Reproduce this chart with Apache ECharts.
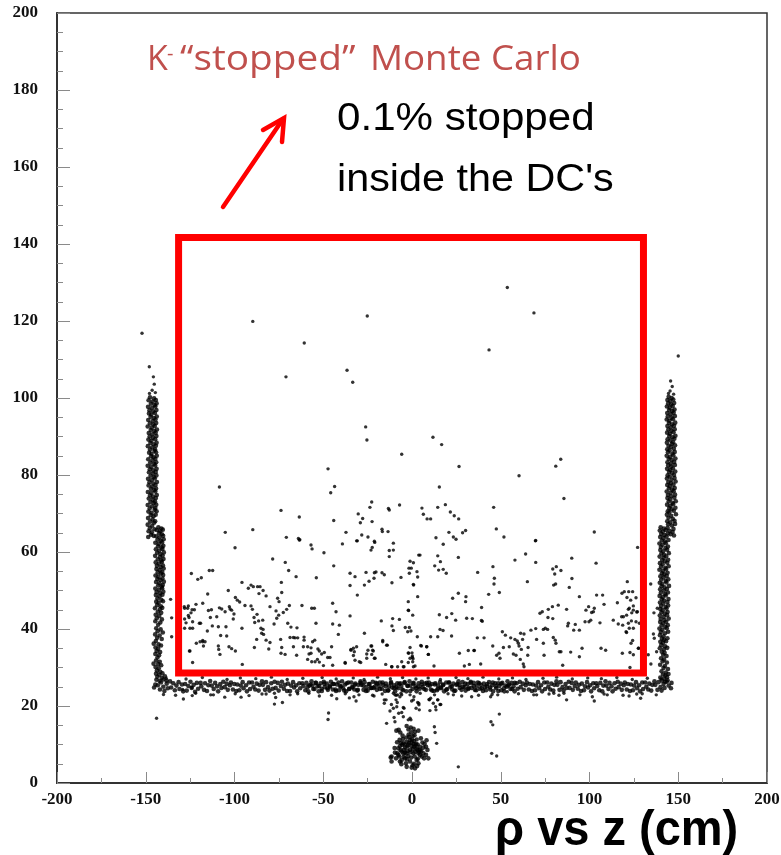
<!DOCTYPE html>
<html>
<head>
<meta charset="utf-8">
<script src="https://cdn.jsdelivr.net/npm/echarts@6/dist/echarts.min.js"></script>
<style>
html,body{margin:0;padding:0;background:#fff;}
#chart{width:781px;height:855px;}
</style>
</head>
<body>
<div id="chart"></div>
<script>
// Axis ranges (cm)
const zRange = [-200, 200];
const rhoRange = [0, 200];
const zStep = 50;
const rhoStep = 20;

// Fiducial box drawn in red: z and rho limits (cm)
const boxZ = [-131.5, 130.4];
const boxRho = [28.6, 141.7];

// Stopping points, flat [z, rho, z, rho, ...] lists (cm)
// Outer chamber wall, left side, upper section
const wallLeftUpper = [
-147.6,100.2,-145.3,99.9,-148.4,99.4,-146.2,99.1,-144.3,99.5,-147.1,98.5,-145.0,98.2,-143.9,98.6,
-148.7,97.7,-146.5,97.4,-144.6,97.8,-147.9,96.8,-145.8,96.5,-144.0,96.9,-148.2,96.0,-146.9,95.7,-144.8,96.1,
-147.3,95.1,-145.4,94.8,-143.8,95.2,-148.6,94.3,-146.1,94.0,-144.5,94.4,-147.7,93.4,-145.7,93.1,-144.1,93.5,
-148.9,92.6,-146.6,92.3,-144.9,92.7,-147.2,91.7,-145.2,91.4,-143.7,91.8,-148.3,90.9,-146.3,90.6,-144.4,91.0,
-147.8,90.0,-145.9,89.7,-144.0,90.1,-148.5,89.2,-146.8,88.9,-144.7,89.3,-147.4,88.3,-145.5,88.0,-143.9,88.4,
-148.8,87.5,-146.4,87.2,-144.3,87.6,-147.6,86.6,-145.1,86.3,-144.8,86.7,-148.1,85.8,-146.7,85.5,-144.2,85.9,
-147.0,84.9,-145.6,84.6,-143.8,85.0,-148.6,84.1,-146.2,83.8,-144.6,84.2,-147.5,83.2,-145.3,82.9,-144.1,83.3,
-148.9,82.4,-146.9,82.1,-144.7,82.5,-147.7,81.5,-145.8,81.2,-143.9,81.6,-148.2,80.7,-146.0,80.4,-144.4,80.8,
-147.3,79.8,-145.4,79.5,-144.0,79.9,-148.7,79.0,-146.6,78.7,-144.9,79.1,-147.9,78.1,-145.7,77.8,-143.7,78.2,
-148.4,77.3,-146.3,77.0,-144.5,77.4,-147.1,76.4,-145.2,76.1,-144.2,76.5,-148.8,75.6,-146.8,75.3,-144.6,75.7,
-147.6,74.7,-145.9,74.4,-143.8,74.8,-148.3,73.9,-146.1,73.6,-144.3,74.0,-147.4,73.0,-145.5,72.7,-144.8,73.1,
-148.9,72.2,-146.5,71.9,-144.1,72.3,-147.8,71.3,-145.0,71.0,-144.6,71.4,-148.5,70.5,-146.7,70.2,-143.9,70.6,
-147.2,69.6,-145.6,69.3,-144.4,69.7,-148.7,68.8,-146.2,68.5,-147.5,67.9,-145.3,67.6,-144.7,68.0,
-148.9,67.1,-146.4,66.8,-147.7,66.2,-145.1,65.9,-148.4,65.4,-146.6,65.1,-147.0,64.5,-145.5,64.2,-148.6,63.9
];
// Left side, lower section bending into the beam-pipe band
const wallLeftLower = [
-142.9,66.4,-141.2,66.1,-143.8,65.7,-141.9,65.4,-140.4,65.8,-142.5,64.9,-140.9,64.6,-144.1,64.1,-142.2,63.8,-140.2,64.2,
-143.4,63.2,-141.5,62.9,-139.9,63.3,-144.6,62.4,-142.7,62.1,-140.8,62.5,-143.1,61.5,-141.1,61.2,-140.1,61.6,
-144.3,60.7,-142.4,60.4,-140.6,60.8,-143.6,59.8,-141.8,59.5,-139.8,59.9,-144.7,59.0,-142.0,58.7,-140.5,59.1,
-143.2,58.1,-141.3,57.8,-140.0,58.2,-144.4,57.3,-142.6,57.0,-140.9,57.4,-143.7,56.4,-141.6,56.1,-140.3,56.5,
-144.0,55.6,-142.1,55.3,-139.9,55.7,-143.3,54.7,-141.4,54.4,-140.7,54.8,-144.5,53.9,-142.8,53.6,-140.2,54.0,
-143.5,53.0,-141.7,52.7,-140.6,53.1,-144.2,52.2,-142.3,51.9,-139.8,52.3,-143.0,51.3,-141.0,51.0,-140.4,51.4,
-144.6,50.5,-142.5,50.2,-140.8,50.6,-143.9,49.6,-141.9,49.3,-140.1,49.7,-144.3,48.8,-142.2,48.5,-140.6,48.9,
-143.4,47.9,-141.2,47.6,-144.1,47.1,-142.7,46.8,-140.3,47.2,-143.6,46.2,-141.5,45.9,-144.8,45.4,-142.0,45.1,-140.7,45.5,
-143.2,44.5,-141.3,44.2,-144.4,43.7,-142.4,43.4,-143.8,42.8,-140.9,42.5,-144.6,42.0,-141.8,41.7,-143.0,41.1,
-144.1,40.2,-141.6,39.9,-143.3,39.4,-140.4,39.1,-144.7,38.6,-142.2,38.3,-143.6,37.7,-141.0,37.4,-144.3,36.9,
-142.8,36.0,-141.4,35.7,-144.5,35.2,-143.0,34.9,-143.9,34.3,-141.9,34.0,-144.6,33.5,-142.5,33.2,-143.4,32.6,
-144.2,31.8,-142.1,31.5,-143.0,30.9,-141.3,30.6,-144.5,30.1,-142.7,29.8,-143.7,29.2,-141.8,28.9,
-144.2,28.4,-142.4,28.1,-140.6,28.5,-143.5,27.6,-141.0,27.3,-139.2,27.7,-144.0,26.8,-142.2,26.5,-140.1,26.9,-138.3,26.6,
-145.5,36.2,-145.6,31.0
];
// Right side, upper section
const wallRightUpper = [
144.6,100.3,146.3,100.0,143.9,99.5,145.5,99.2,147.2,99.6,144.3,98.6,146.0,98.3,147.7,98.7,
143.6,97.8,145.2,97.5,146.9,97.9,144.8,96.9,146.6,96.6,147.9,97.0,143.8,96.1,145.7,95.8,147.4,96.2,
144.1,95.2,146.2,94.9,148.1,95.3,143.5,94.4,145.0,94.1,147.0,94.5,144.7,93.5,146.5,93.2,148.3,93.6,
143.9,92.7,145.8,92.4,147.6,92.8,144.4,91.8,146.1,91.5,148.0,91.9,143.7,91.0,145.3,90.7,147.3,91.1,
144.9,90.1,146.8,89.8,148.4,90.2,144.0,89.3,145.6,89.0,147.8,89.4,143.6,88.4,146.4,88.1,147.1,88.5,
144.5,87.6,145.9,87.3,148.2,87.7,143.8,86.7,145.1,86.4,147.5,86.8,144.2,85.9,146.7,85.6,148.0,86.0,
143.5,85.0,145.4,84.7,147.2,85.1,144.6,84.2,146.3,83.9,148.4,84.3,143.9,83.3,145.8,83.0,147.7,83.4,
144.3,82.5,146.0,82.2,148.1,82.6,143.7,81.6,145.5,81.3,147.0,81.7,144.8,80.8,146.5,80.5,148.3,80.9,
144.0,79.9,145.2,79.6,147.6,80.0,143.6,79.1,146.2,78.8,147.9,79.2,144.4,78.2,145.9,77.9,148.5,78.3,
143.8,77.4,145.3,77.1,147.3,77.5,144.7,76.5,146.6,76.2,148.0,76.6,143.5,75.7,145.7,75.4,147.4,75.8,
144.2,74.8,146.1,74.5,148.2,74.9,143.9,74.0,145.4,73.7,147.8,74.1,144.6,73.1,146.8,72.8,148.6,73.2,
143.7,72.3,145.6,72.0,147.1,72.4,144.9,71.4,146.3,71.1,148.4,71.5,144.1,70.6,145.0,70.3,147.5,70.7,
143.6,69.7,146.0,69.4,148.7,69.8,144.5,68.9,146.9,68.6,143.8,68.0,145.5,67.7,147.9,68.1,
144.3,67.2,146.4,66.9,148.2,67.3,144.0,66.3,147.3,66.0,145.1,65.5,146.8,65.2,145.7,64.6,147.6,64.3
];
// Right side, lower section bending into the beam-pipe band
const wallRightLower = [
140.1,66.4,141.9,66.1,139.6,65.6,141.3,65.3,143.0,65.7,140.4,64.7,142.2,64.4,144.1,64.8,
139.8,63.9,141.6,63.6,143.4,64.0,140.7,63.0,142.5,62.7,144.5,63.1,139.4,62.2,141.1,61.9,143.0,62.3,
140.2,61.3,142.8,61.0,144.2,61.4,139.9,60.5,141.5,60.2,143.7,60.6,140.5,59.6,142.0,59.3,144.7,59.7,
139.5,58.8,141.8,58.5,143.2,58.9,140.9,57.9,142.4,57.6,144.3,58.0,139.7,57.1,141.2,56.8,143.8,57.2,
140.3,56.2,142.7,55.9,144.6,56.3,139.4,55.4,141.4,55.1,143.1,55.5,140.8,54.5,142.1,54.2,144.0,54.6,
139.9,53.7,141.7,53.4,143.5,53.8,140.4,52.8,142.9,52.5,144.4,52.9,139.6,52.0,141.0,51.7,143.3,52.1,
140.6,51.1,142.3,50.8,144.8,51.2,139.8,50.3,141.9,50.0,143.6,50.4,140.2,49.4,142.6,49.1,144.2,49.5,
139.5,48.6,141.3,48.3,143.0,48.7,140.7,47.7,142.0,47.4,144.5,47.8,139.7,46.9,141.6,46.6,143.9,47.0,
140.3,46.0,142.8,45.7,144.3,46.1,139.9,45.2,141.2,44.9,143.4,45.3,140.5,44.3,142.4,44.0,144.0,44.4,
139.6,43.5,141.8,43.2,143.7,43.6,140.1,42.6,142.2,42.3,144.6,42.7,139.8,41.8,141.5,41.5,143.2,41.9,
140.6,40.9,142.7,40.6,144.1,41.0,139.4,40.1,141.1,39.8,143.5,40.2,140.2,39.2,142.5,38.9,144.3,39.3,
139.7,38.4,141.7,38.1,140.8,37.5,142.0,37.2,143.9,37.6,139.9,36.7,141.4,36.4,143.1,36.8,140.4,35.8,142.6,35.5,
139.6,35.0,141.9,34.7,143.8,35.1,140.7,34.1,142.3,33.8,141.5,33.3,143.4,33.0,140.3,32.4,142.0,32.1,
141.2,31.6,143.6,31.3,139.8,30.7,142.5,30.4,141.7,29.9,144.2,29.6,140.6,29.0,143.0,28.7,
141.4,28.2,142.8,27.9,144.5,28.3,139.9,27.4,142.0,27.1,143.7,27.5,140.8,26.6,142.6,26.3,144.0,26.7
];
// Beam-pipe band around rho = 25 cm
const beamBand = [
-145.3,24.8,-144.6,25.6,
-143.2,25.4,-142.0,24.3,-141.4,26.1,-140.1,25.0,-139.5,23.9,-138.2,25.8,-137.6,24.6,-136.3,26.4,
-135.7,24.8,-134.5,25.9,-133.6,24.1,-132.7,25.3,-131.5,26.2,-131.0,24.4,-129.6,25.6,-128.9,23.8,
-127.8,25.7,-126.9,24.0,-126.0,25.2,-124.8,26.3,-124.1,24.7,-123.0,25.5,-122.2,23.7,-121.2,26.0,
-120.5,24.5,-119.1,26.0,-118.7,25.1,-117.2,24.2,-116.6,25.9,-115.5,23.9,-114.7,25.4,-113.7,26.5,
-112.8,25.3,-111.7,24.4,-110.9,26.0,-109.8,25.1,-109.2,23.8,-108.0,25.7,-107.4,24.7,-106.3,26.3,
-105.5,24.9,-104.4,25.8,-103.8,24.2,-102.6,25.4,-102.0,26.1,-100.9,24.3,-100.1,25.7,-99.0,23.9,
-98.4,25.6,-97.3,24.1,-96.5,25.3,-95.4,26.2,-94.9,24.6,-93.5,25.4,-93.0,23.8,-91.8,26.1,
-91.2,24.4,-90.1,26.1,-89.3,25.0,-88.3,24.3,-87.5,25.8,-86.4,24.0,-85.9,25.5,-84.5,26.4,
-84.0,25.5,-82.8,24.2,-82.2,26.2,-81.1,24.9,-80.3,24.0,-79.3,25.9,-78.5,24.5,-77.4,26.3,
-76.8,24.7,-75.6,26.0,-75.1,24.0,-73.9,25.2,-73.3,26.3,-72.2,24.5,-71.6,25.5,-70.4,23.9,
-69.9,25.8,-68.7,23.9,-68.1,25.3,-67.0,26.2,-66.4,24.8,-65.3,25.4,-64.7,23.8,-63.5,25.9,
-63.0,24.6,-61.8,25.9,-61.2,25.2,-60.1,24.1,-59.5,26.0,-58.4,23.8,-57.8,25.3,-56.6,26.4,
-56.1,25.3,-54.9,24.4,-54.3,26.0,-53.2,25.1,-52.6,23.8,-51.5,25.9,-50.9,24.5,-49.7,26.3,
-49.2,24.9,-48.0,25.8,-47.4,24.2,-46.3,25.2,-45.7,26.3,-44.6,24.3,-44.0,25.7,-42.8,23.9,
-42.3,25.6,-41.1,24.1,-40.5,25.1,-39.4,26.4,-38.8,24.6,-37.7,25.6,-37.1,23.8,-35.9,26.1,
-35.4,24.4,-34.2,26.1,-33.6,25.0,-32.5,24.3,-31.9,25.8,-30.8,24.0,-30.2,25.5,-29.0,26.4,
-28.5,25.5,-27.3,24.2,-26.7,26.2,-25.6,24.9,-25.0,24.0,-23.9,25.7,-23.3,24.7,-22.1,26.3,
-21.6,24.7,-20.4,26.0,-19.8,24.2,-18.7,25.2,-18.1,26.1,-17.0,24.5,-16.4,25.5,-15.2,23.9,
-14.7,25.8,-13.5,24.1,-12.9,25.1,-11.8,26.2,-11.2,24.8,-10.1,25.4,-9.5,23.8,-8.3,25.9,
-7.8,24.6,-6.6,25.9,-6.0,25.2,-4.9,24.1,-4.3,26.0,-3.2,23.8,-2.6,25.3,-1.4,26.4,
-0.9,25.3,0.3,24.4,0.9,26.0,2.0,25.1,2.6,23.8,3.7,25.9,4.3,24.5,5.5,26.3,
6.0,24.9,7.2,25.8,7.8,24.2,8.9,25.4,9.5,26.1,10.6,24.3,11.2,25.7,12.4,23.9,
12.9,25.6,14.1,24.1,14.7,25.3,15.8,26.2,16.4,24.6,17.5,25.4,18.1,23.8,19.3,26.1,
19.8,24.4,21.0,26.1,21.6,25.0,22.7,24.3,23.3,25.8,24.4,24.0,25.0,25.5,26.2,26.4,
26.7,25.5,27.9,24.2,28.5,26.2,29.6,24.9,30.2,24.0,31.3,25.7,31.9,24.7,33.1,26.3,
33.6,24.7,34.8,26.0,35.4,24.2,36.5,25.2,37.1,26.1,38.2,24.5,38.8,25.5,40.0,23.9,
40.5,25.8,41.7,24.1,42.3,25.1,43.4,26.2,44.0,24.8,45.1,25.4,45.7,23.8,46.9,25.9,
47.4,24.6,48.6,25.9,49.2,25.2,50.3,24.1,50.9,26.0,52.0,23.8,52.6,25.3,53.8,26.4,
54.3,25.3,55.5,24.4,56.1,26.0,57.2,25.1,57.8,23.8,58.9,25.9,59.5,24.5,60.7,26.3,
61.2,24.9,62.4,25.8,63.0,24.2,64.1,25.4,64.7,26.1,65.8,24.3,66.4,25.7,67.6,23.9,
68.1,25.6,69.3,24.1,69.9,25.3,71.0,26.2,71.6,24.6,72.7,25.4,73.3,23.8,74.5,26.1,
75.0,24.4,76.2,26.1,76.8,25.0,77.9,24.3,78.5,25.8,79.6,24.0,80.2,25.5,81.4,26.4,
81.9,25.5,83.1,24.2,83.7,26.2,84.8,24.9,85.4,24.0,86.5,25.7,87.1,24.7,88.3,26.3,
88.8,24.7,90.0,26.0,90.6,24.2,91.7,25.2,92.3,26.1,93.4,24.5,94.0,25.5,95.2,23.9,
95.7,25.8,96.9,24.1,97.5,25.1,98.6,26.2,99.2,24.8,100.3,25.4,100.9,23.8,102.1,25.9,
102.6,24.6,103.8,25.9,104.4,25.2,105.5,24.1,106.1,26.0,107.2,23.8,107.8,25.3,109.0,26.4,
109.5,25.3,110.7,24.4,111.3,26.0,112.4,25.1,113.0,23.8,114.1,25.9,114.7,24.5,115.9,26.3,
116.4,24.9,117.6,25.8,118.2,24.2,119.3,25.4,119.9,26.1,121.0,24.3,121.6,25.7,122.8,23.9,
123.3,25.6,124.5,24.1,125.1,25.3,126.2,26.2,126.8,24.6,127.9,25.4,128.5,23.8,129.7,26.1,
130.2,24.4,131.4,26.1,132.0,25.0,133.1,24.3,133.7,25.8,134.8,24.0,135.4,25.5,136.6,26.4,
137.1,25.5,138.3,24.2,138.9,26.2,140.0,24.9,140.6,24.0,141.7,25.7,142.3,24.7,143.5,26.3,
144.6,25.3,145.9,24.6,146.2,26.0
];
// Extra density in the central part of the band
const beamBandCore = [
-58.9,24.9,-57.2,25.6,-55.6,24.4,-54.1,26.0,-52.3,25.2,-50.8,23.9,-49.4,25.8,-47.7,24.6,
-46.2,25.0,-44.5,25.7,-43.1,24.3,-41.4,26.1,-39.9,25.1,-38.2,24.0,-36.8,25.9,-35.3,24.5,
-33.6,24.8,-32.2,25.5,-30.5,24.2,-29.0,26.0,-27.4,25.3,-25.9,23.9,-24.3,25.7,-22.8,24.7,
-21.0,25.0,-19.7,25.8,-18.1,24.4,-16.6,26.1,-14.8,25.1,-13.4,24.0,-11.9,25.9,-10.1,24.6,
-8.8,24.9,-7.2,25.7,-5.5,24.3,-4.1,26.2,-2.4,25.2,-1.0,23.9,0.7,25.8,2.3,24.6,
3.6,25.0,5.4,25.6,6.9,24.4,8.3,26.0,10.0,25.3,11.4,24.0,13.1,25.9,14.5,24.5,
16.2,24.8,17.6,25.6,19.3,24.2,20.7,26.1,22.4,25.1,23.8,23.9,25.5,25.7,26.9,24.7,
28.6,25.0,30.0,25.8,31.7,24.4,33.1,26.0,34.8,25.2,36.2,24.1,37.9,25.9,39.3,24.6,
41.0,24.9,42.4,25.7,44.1,24.3,45.5,26.1,47.2,25.1,48.6,23.9,50.3,25.8,51.7,24.6,
53.4,25.0,54.8,25.6,56.5,24.4,57.9,26.0
];
// Looser points just above and below the band
const bandFringe = [
-138.5,27.2,-127.3,27.0,-118.1,27.4,-104.2,26.9,-96.7,27.3,-88.0,27.1,-79.2,27.5,-70.3,26.9,-61.5,27.2,-50.6,27.4,
-42.7,27.0,-33.1,27.3,-27.0,26.9,-19.4,27.5,-12.2,27.1,-5.3,27.4,2.2,27.0,9.1,27.3,16.0,26.9,24.8,27.4,
31.5,27.1,40.0,27.5,48.9,27.0,56.6,27.3,64.2,26.9,73.8,27.2,81.5,27.5,90.3,27.0,99.0,27.3,106.7,27.1,
115.4,27.4,124.1,26.9,132.6,27.2,140.2,27.0,
-140.0,23.0,-133.2,22.8,-121.9,23.3,-113.4,22.9,-99.6,23.2,-91.8,22.7,-84.5,23.1,-68.7,22.9,-58.1,23.3,-45.3,22.8,
-37.6,23.2,-29.9,22.9,-16.8,23.1,-8.9,22.8,4.6,23.3,12.7,22.9,20.3,23.2,37.5,22.8,45.1,23.0,60.0,23.2,
68.6,22.9,79.9,23.3,94.6,22.9,108.2,23.1,118.9,22.8,129.7,23.2,137.6,22.9,-129.2,24.3,-124.1,24.8
];
// Points below the band, including the funnel towards the target
const belowBand = [
-128.8,21.8,-123.8,22.7,-111.9,22.9,-105.5,22.3,-96.3,22.3,-82.2,23.1,-77.5,23.3,-76.8,22.2,-77.5,20.5,-73.0,20.9,
-64.4,23.2,-52.2,22.6,-42.4,21.9,-35.3,22.1,-22.2,22.8,-15.6,20.7,-14.6,21.6,-11.6,20.4,-10.5,23.3,-6.8,22.4,
-8.6,19.8,-4.5,19.4,-143.9,16.8,-5.8,22.9,-4.9,19.6,-1.1,22.9,0.8,21.6,3.8,20.7,9.6,21.7,12.0,20.7,
14.5,21.6,16.2,20.4,13.3,19.8,23.3,22.9,28.0,22.6,33.6,22.4,44.3,22.4,48.3,22.9,53.7,23.7,70.2,22.9,
77.2,23.1,82.8,22.8,85.6,23.3,87.1,21.6,101.6,22.4,102.7,21.3,110.0,22.9,122.3,22.6,126.6,23.1,128.8,22.0,
-32.7,22.4,-31.5,21.3,-21.4,22.6,-15.6,21.6,-9.6,22.9,-8.1,22.9,-6.2,23.3,-9.0,21.6,-8.3,20.9,-12.4,18.7,
-10.5,19.4,-10.1,17.0,-7.5,18.1,-5.8,18.3,-4.9,17.2,-14.3,15.5,-9.6,15.9,-0.2,21.3,1.1,22.4,3.2,20.9,
3.9,20.3,2.3,19.4,4.1,19.0,-1.1,16.8,-2.1,16.4,-0.6,16.4,9.8,21.6,10.5,22.0,14.5,21.6,15.8,20.4,
13.5,19.0,10.1,18.8,12.6,14.6,13.0,13.1,13.9,10.3,44.5,15.9,45.5,15.1,49.2,17.9,44.9,7.7,47.7,7.0,
26.1,4.2,-47.3,16.5,-47.0,18.2
];
// Cluster at the target, rho below 15 cm
const targetBlob = [
-8.8,13.6,-7.5,13.8,-6.6,13.1,-3.0,14.8,-0.7,14.4,1.7,13.3,3.6,13.6,-1.5,12.0,0.4,12.2,2.6,11.3,
1.1,10.9,-1.1,11.2,-3.0,10.7,-4.9,10.3,-6.8,9.6,-7.7,9.0,-8.3,7.7,-7.1,6.9,-5.8,6.0,-3.9,6.4,
-3.0,7.7,-1.1,8.6,-0.2,9.6,1.1,9.4,2.6,8.9,4.5,9.4,6.4,9.2,7.9,9.4,8.7,8.6,6.4,7.7,
5.5,6.9,6.8,6.4,4.5,7.3,3.6,7.7,0.8,7.7,-2.1,7.0,-4.9,7.7,-6.4,8.6,-7.7,7.3,-9.0,6.4,
-6.8,5.6,-3.4,5.1,-1.1,5.6,1.1,5.0,2.6,6.0,3.6,5.1,-3.0,4.2,-0.2,4.0,1.7,3.8,-11.5,6.9,
-11.5,5.6,-12.0,6.6,-9.6,7.9,7.9,7.3,9.2,6.4,4.5,8.6,2.3,10.1,-3.8,9.2,-2.1,9.9,-5.1,11.4,
-0.2,10.5,-4.5,8.6,-5.5,9.9,-4.1,10.0,-2.6,9.5,-1.6,10.4,0.0,11.3,0.9,10.2,2.0,9.7,3.2,10.0,
4.0,8.1,5.2,8.3,-5.9,8.2,-4.0,7.9,-2.5,8.3,-0.8,8.0,0.5,8.8,1.8,8.1,3.0,8.6,-3.2,11.8,
-1.9,12.6,1.4,12.4,-0.4,13.2,-5.3,12.3,-7.0,11.2,-6.2,10.4,5.9,10.5,7.1,10.2,-2.8,6.2,-0.5,6.6,
1.5,6.9,3.3,6.3,-4.6,6.8,-6.0,4.9,0.4,4.6,2.9,4.4,-8.4,10.6,-2.0,13.9,0.9,14.1,5.0,11.6,
-9.8,9.1,8.2,11.1
];
// Points inside the box, rho between about 29 and 63 cm
const boxPoints = [
-99.7,61.1,-78.5,58.2,-71.4,57.3,-69.5,55.2,-65.3,53.6,-124.3,54.4,-114.2,55.2,-112.3,55.2,-120.7,52.9,-118.7,53.3,
-95.8,52.1,-73.6,52.1,-73.4,49.5,-75.7,48.0,-74.9,47.1,-115.1,49.1,-103.5,50.0,-99.5,48.2,-98.4,47.5,-97.1,47.0,
-92.2,50.6,-90.7,51.4,-89.4,51.0,-87.0,51.0,-85.6,51.0,-86.2,49.2,-83.9,50.0,-82.2,48.6,-94.1,46.1,-90.7,46.0,
-89.9,45.1,-128.1,45.4,-126.0,46.0,-123.9,45.0,-121.7,46.4,-117.9,46.7,-124.5,44.2,-122.6,45.0,-128.1,42.6,-125.6,43.0,
-128.1,40.2,-123.6,40.2,-119.1,41.5,-114.7,44.8,-113.0,45.0,-113.6,43.0,-110.0,43.2,-108.5,45.5,-107.2,45.2,-105.3,44.5,
-102.5,45.2,-102.9,45.8,-101.6,44.9,-100.3,43.9,-100.7,42.6,-112.5,40.8,-115.3,39.5,-107.8,38.3,-104.4,38.2,-109.1,40.6,
-104.8,40.6,-117.9,37.0,-116.6,36.7,-117.5,35.6,-109.1,35.6,-108.9,34.7,-125.1,34.3,-108.2,33.4,-103.1,35.4,-101.6,34.9,
-99.5,34.3,-95.8,40.2,-95.6,30.8,-88.6,41.7,-86.4,42.1,-84.1,42.3,-85.1,40.2,-83.9,39.9,-84.7,38.9,-83.6,38.6,
-89.0,43.0,-87.3,43.8,-88.8,35.2,-87.5,37.3,-82.2,37.1,-80.0,36.5,-80.7,34.8,-77.7,41.3,-76.2,42.8,-75.1,43.6,
-76.6,44.7,-72.5,44.3,-80.0,45.8,-69.1,46.1,-70.6,45.1,-74.0,37.3,-73.4,35.2,-73.8,33.7,-71.5,33.4,-70.0,41.5,
-68.2,40.5,-64.8,40.3,-68.7,37.8,-66.8,37.8,-65.9,37.7,-66.8,35.4,-65.0,33.2,-62.0,46.1,-64.4,37.7,-60.8,37.9,
-60.8,37.1,-61.2,35.4,-58.8,35.4,-58.0,33.5,-56.9,35.1,-56.5,45.4,-55.0,45.4,-54.8,37.1,-56.0,36.7,-54.1,41.5,
-53.0,34.8,-52.2,34.3,-53.3,32.1,-52.2,31.4,-50.9,33.5,-49.4,33.9,-47.5,32.6,-46.2,32.6,-49.9,30.5,-54.6,31.5,
-56.5,31.5,-58.8,32.1,-56.9,33.7,-53.9,53.3,-49.6,59.8,-56.9,61.8,-56.3,60.8,-63.5,63.1,-44.1,56.4,-39.2,62.1,
-31.2,62.9,-44.7,46.7,-42.8,44.5,-44.7,41.3,-40.9,41.0,-41.5,38.6,-45.3,35.4,-44.7,30.6,-37.6,31.1,-33.0,35.0,
-31.2,35.4,-34.4,34.5,-32.1,31.9,-34.9,43.4,-34.9,54.5,-32.1,53.6,-34.9,51.3,-30.8,48.8,-26.8,38.9,-26.8,51.4,
-25.9,54.7,-24.2,52.4,-21.4,53.2,-20.3,54.8,-21.2,54.6,-23.1,60.5,-22.4,61.2,-21.2,62.8,-16.9,54.6,-15.6,54.1,
-12.8,60.4,-12.8,58.8,-11.3,52.0,-17.3,42.1,-10.9,42.7,-7.1,42.5,-11.3,40.8,-10.5,39.6,-1.5,40.4,-0.6,39.5,
-2.4,39.3,-16.5,37.0,-13.9,35.8,-24.8,34.5,-21.8,34.3,-23.1,35.6,-22.7,33.4,-25.5,32.4,-20.8,32.4,-28.9,31.3,
-1.1,35.2,-1.9,33.7,0.2,32.6,-1.1,32.4,-5.8,31.5,-11.3,30.2,-8.1,30.2,-4.5,30.2,-1.1,57.6,-0.4,55.8,
-1.5,54.5,0.8,57.2,3.8,59.2,3.2,53.5,0.8,51.6,3.2,48.4,-2.1,47.1,-2.1,44.9,0.4,43.6,-10.5,62.3,
-10.5,60.5,
17.6,62.0,69.5,62.9,4.5,59.2,14.5,59.0,16.0,57.5,12.8,56.4,15.0,55.3,17.6,55.5,19.3,54.5,-1.7,55.8,
2.8,54.9,0.9,51.4,-6.2,53.4,26.1,58.6,37.0,54.7,45.6,56.2,46.4,53.2,46.2,51.7,49.2,49.5,43.2,49.0,
58.0,57.9,64.0,59.5,69.7,57.3,65.0,52.3,90.0,58.4,90.1,53.1,88.6,50.8,79.3,55.6,81.3,56.2,83.9,55.2,
80.4,54.3,79.8,51.4,80.9,51.7,103.7,57.1,121.3,52.3,127.1,61.2,26.1,49.3,22.9,48.0,30.4,48.4,30.2,47.1,
39.2,45.6,39.1,42.2,39.6,42.0,-1.9,44.8,-3.8,40.4,15.4,43.7,19.5,43.0,22.4,44.0,24.6,42.3,30.8,42.8,
34.0,42.7,15.8,39.9,17.5,39.6,22.3,38.2,14.5,38.0,10.5,38.0,3.0,38.0,5.3,35.6,8.3,35.4,0.0,33.8,
0.6,32.3,0.8,30.2,9.2,33.4,26.7,33.7,31.7,34.4,34.9,34.4,36.8,37.7,40.6,37.7,38.7,30.9,49.0,33.7,
49.6,32.4,45.5,35.6,50.9,39.3,52.6,38.4,55.6,37.7,51.5,35.2,54.8,35.4,57.1,33.5,58.6,33.2,58.0,37.3,
59.3,36.9,59.9,36.3,61.2,38.9,63.1,38.7,62.3,37.3,60.3,35.6,61.6,34.7,65.4,35.2,65.2,33.2,61.0,32.1,
62.7,30.9,63.1,30.2,67.0,39.7,69.7,40.1,70.2,37.3,74.0,39.9,76.4,39.9,72.1,44.1,73.4,44.5,76.8,45.1,
79.1,45.8,76.6,43.0,79.3,42.7,82.4,46.2,87.1,45.1,75.1,40.2,74.0,36.3,74.4,33.2,79.6,37.8,80.7,37.1,
83.0,34.1,83.9,34.1,81.1,36.3,87.7,40.8,88.1,41.5,92.0,41.2,91.1,39.7,94.3,39.7,89.4,34.0,94.3,32.8,
95.8,35.0,84.9,30.6,94.3,48.4,98.0,44.9,99.5,45.8,101.2,44.3,104.0,48.8,102.2,44.5,102.7,45.4,107.4,48.8,
108.2,46.4,97.5,41.9,99.7,41.9,100.7,42.3,105.9,41.6,106.5,35.0,109.1,34.5,115.7,46.8,118.1,43.2,119.1,43.2,
116.2,41.3,118.7,41.0,118.3,49.3,119.6,49.7,113.4,42.3,121.9,45.1,123.2,47.5,123.8,44.2,121.9,41.5,122.4,40.2,
120.9,39.1,123.6,42.1,127.0,44.5,128.1,41.5,127.7,35.0,122.8,33.9,118.5,33.7,122.8,30.0,122.1,49.7,124.3,49.7,
124.7,46.0,121.1,48.2,126.2,48.1,122.4,45.4,124.7,44.9,120.9,43.6,126.6,44.4,126.2,41.9,124.7,40.2,120.6,39.3,
124.3,37.0,123.4,36.3,124.7,33.3,127.5,35.0,
-136.0,47.7,-128.3,45.8,-126.4,45.4,-135.4,42.9,-127.3,41.6,-123.6,41.9,-119.8,41.5,-125.1,40.2,-126.0,43.5,-135.4,38.0,
-119.4,36.7,-117.9,36.7,-121.5,36.3,-125.4,34.3,-123.6,31.3,
-37.7,31.3,-34.4,34.7,-32.5,34.1,-33.0,33.1,-29.7,31.5,-25.5,33.5,-22.7,35.6,-22.2,34.5,-21.2,32.4,-16.5,36.7,
-14.3,35.8,-14.8,30.8,-11.5,30.2,-4.9,30.2,-2.1,31.3,-2.1,33.8,0.2,33.0,0.4,31.5,1.7,30.4,4.9,35.7,
8.3,35.4,9.2,33.4,12.4,30.4,35.1,34.4,29.5,30.4,32.3,30.8,47.7,33.2,
134.5,51.7,136.3,44.2,138.2,45.4,136.0,38.7,136.5,37.6,137.8,34.1,133.1,33.3,134.6,30.9
];
// Sparse points higher up, rho above about 63 cm
const upperPoints = [
-89.7,119.9,-25.2,121.3,-60.7,114.3,-71.0,105.5,-36.6,107.2,-33.4,104.1,-26.1,92.5,-25.4,89.1,-5.8,85.4,-47.3,81.6,
-108.5,76.9,-43.6,77.0,-45.8,75.4,-22.7,73.0,-23.7,71.6,-13.3,71.3,-12.8,70.9,-7.0,72.2,-73.8,70.8,-63.5,69.1,
-44.1,68.2,-30.3,69.9,-27.8,68.7,-29.1,67.6,-22.5,67.9,-105.2,65.1,-89.7,65.8,-70.8,63.8,-64.0,63.5,-63.2,63.2,
-37.2,65.1,-16.9,65.9,-16.7,65.3,-13.5,65.3,-28.3,64.4,-24.8,63.9,-30.8,62.9,-21.0,62.5,
53.7,128.7,68.7,122.1,43.4,112.5,11.8,89.8,16.7,87.9,26.5,82.2,83.8,84.1,81.0,82.3,60.3,79.8,15.4,76.9,
85.6,73.9,5.6,71.4,14.5,71.6,18.8,72.3,46.0,71.6,6.4,69.8,8.5,68.6,10.5,68.6,21.6,70.4,23.8,69.4,
26.3,68.6,47.5,66.0,102.7,65.2,20.8,65.1,23.3,63.9,24.8,63.3,28.5,65.0,30.2,65.6,13.5,63.7,51.8,63.9,69.7,63.0
];
// Isolated points above the chamber walls
const wallTops = [
-152.1,116.8,-148.0,108.1,-145.7,105.5,-145.2,103.6,-146.4,102.0,-147.9,101.2,-144.6,101.4,
150.0,110.9,145.7,104.4,145.4,101.8,146.6,103.0,144.5,101.2,147.4,101.0
];

function toPairs(flat) {
  const out = [];
  for (let i = 0; i + 1 < flat.length; i += 2) out.push([flat[i], flat[i + 1]]);
  return out;
}

const densePoints = [].concat(
  toPairs(wallLeftUpper), toPairs(wallLeftLower),
  toPairs(wallRightUpper), toPairs(wallRightLower),
  toPairs(beamBand), toPairs(beamBandCore), toPairs(targetBlob)
);
const sparsePoints = [].concat(
  toPairs(bandFringe), toPairs(belowBand),
  toPairs(boxPoints), toPairs(upperPoints), toPairs(wallTops)
);

// Closed outline of the box, starting mid-way along the top edge so every corner is a join
const boxPath = [
  [(boxZ[0] + boxZ[1]) / 2, boxRho[1]],
  [boxZ[1], boxRho[1]], [boxZ[1], boxRho[0]],
  [boxZ[0], boxRho[0]], [boxZ[0], boxRho[1]],
  [(boxZ[0] + boxZ[1]) / 2, boxRho[1]]
];

const tickFont = {
  fontFamily: '"Liberation Serif", "DejaVu Serif", serif',
  fontWeight: 'bold',
  fontSize: 17,
  color: '#111'
};

const chart = echarts.init(document.getElementById('chart'), null, { renderer: 'canvas' });

chart.setOption({
  animation: false,
  backgroundColor: '#ffffff',
  grid: {
    left: 57, right: 14, top: 13, bottom: 72,
    containLabel: false,
    outerBoundsMode: 'none',
    show: true,
    borderColor: '#333',
    borderWidth: 1.5,
    backgroundColor: 'transparent'
  },
  xAxis: {
    type: 'value',
    min: zRange[0], max: zRange[1], interval: zStep,
    axisLine: { show: true, onZero: false, lineStyle: { color: '#333', width: 2 } },
    axisTick: { show: true, inside: true, length: 11, lineStyle: { color: '#8a8a8a', width: 1 } },
    minorTick: { show: true, splitNumber: 2, length: 5, lineStyle: { color: '#8a8a8a', width: 1 } },
    splitLine: { show: false },
    minorSplitLine: { show: false },
    axisLabel: Object.assign({ margin: 8 }, tickFont)
  },
  yAxis: {
    type: 'value',
    min: rhoRange[0], max: rhoRange[1], interval: rhoStep,
    axisLine: { show: true, onZero: false, lineStyle: { color: '#333', width: 2 } },
    axisTick: { show: true, inside: true, length: 13, lineStyle: { color: '#8a8a8a', width: 1 } },
    minorTick: { show: true, splitNumber: 4, length: 6, lineStyle: { color: '#8a8a8a', width: 1 } },
    splitLine: { show: false },
    minorSplitLine: { show: false },
    axisLabel: Object.assign({ margin: 19 }, tickFont)
  },
  series: [
    {
      type: 'scatter',
      data: densePoints,
      symbol: 'circle',
      symbolSize: 4.6,
      itemStyle: { color: '#000' },
      silent: true,
      z: 2
    },
    {
      type: 'scatter',
      data: sparsePoints,
      symbol: 'circle',
      symbolSize: 3.4,
      itemStyle: { color: '#000' },
      silent: true,
      z: 2
    },
    {
      type: 'line',
      data: boxPath,
      showSymbol: false,
      symbol: 'none',
      clip: false,
      silent: true,
      lineStyle: { color: '#ff0000', width: 7, join: 'miter', cap: 'butt' },
      z: 10
    }
  ],
  graphic: [
    // Red heading: K with superscript minus, then the rest
    { type: 'text', x: 147, y: 60, z: 20, style: { text: 'K', font: '34px "Open Sans"', fill: '#C0504D', verticalAlign: 'middle', textVerticalAlign: 'middle' } },
    { type: 'text', x: 167, y: 54, z: 20, style: { text: '-', font: '20px "Open Sans"', fill: '#C0504D', verticalAlign: 'middle', textVerticalAlign: 'middle' } },
    { type: 'text', x: 180, y: 60, z: 20, scaleX: 1.14, style: { text: '\u201Cstopped\u201D', font: '34px "Open Sans"', fill: '#C0504D', verticalAlign: 'middle', textVerticalAlign: 'middle' } },
    { type: 'text', x: 370, y: 60, z: 20, scaleX: 1.08, style: { text: 'Monte Carlo', font: '34px "Open Sans"', fill: '#C0504D', verticalAlign: 'middle', textVerticalAlign: 'middle' } },
    // Black note
    { type: 'text', x: 337, y: 119, z: 20, scaleX: 1.08, style: { text: '0.1% stopped', font: '39px "Liberation Sans"', fill: '#000', verticalAlign: 'middle', textVerticalAlign: 'middle' } },
    { type: 'text', x: 337, y: 180, z: 20, scaleX: 1.06, style: { text: "inside the DC's", font: '39px "Liberation Sans"', fill: '#000', verticalAlign: 'middle', textVerticalAlign: 'middle' } },
    // Arrow pointing up-right
    { type: 'line', z: 20, shape: { x1: 223, y1: 207, x2: 283, y2: 119 }, style: { stroke: '#ff0000', lineWidth: 4.5, lineCap: 'round' } },
    { type: 'polyline', z: 20, shape: { points: [[263, 130], [284, 118], [282, 142]] }, style: { stroke: '#ff0000', fill: null, lineWidth: 4.5, lineCap: 'round', lineJoin: 'miter' } },
    // Axis caption
    { type: 'text', x: 495, y: 831, z: 20, scaleX: 0.94, style: { text: '\u03C1 vs z (cm)', font: 'bold 50px "Liberation Sans"', fill: '#000', verticalAlign: 'middle', textVerticalAlign: 'middle' } }
  ]
});
</script>
</body>
</html>
